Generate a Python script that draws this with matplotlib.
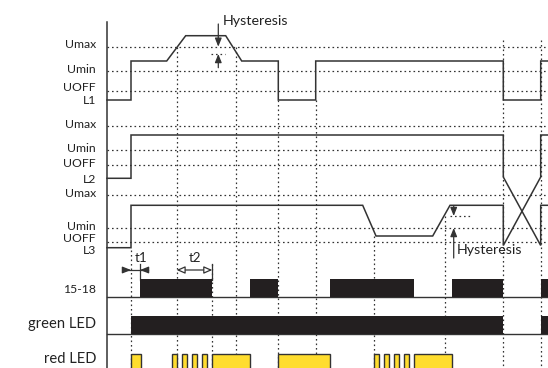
import matplotlib.pyplot as plt

plt.rcParams['font.family'] = ['Lato', 'DejaVu Sans']

# time marks (dotted verticals) and where each one begins
marks = [131, 176.6, 212.3, 235.7, 278.3, 315.7, 373.5, 444.5, 503.3, 540.7]
mark_top = [250, 47, 264, 47, 100, 100, 236, 216, 40, 40]

# threshold levels (Umax, Umin, UOFF) of each channel
l1_levels = [46.7, 70.7, 91]
l2_levels = [125.7, 150, 165]
l3_levels = [195, 228, 241.7]
level_names = ["Umax", "Umin", "UOFF"]

# waveforms
l1_t = [107, 131, 131, 166.7, 185.7, 225.7, 241.7, 278.3, 278.3, 315.7, 315.7, 503.3, 503.3, 540.7, 540.7, 548]
l1_v = [100, 100, 61, 61, 35.7, 35.7, 61, 61, 100, 100, 61, 61, 100, 100, 61, 61]
l2_t = [107, 131, 131, 503.3, 503.3, 540.7, 540.7, 548]
l2_v = [178.3, 178.3, 135, 135, 177, 245.5, 205.3, 205.3]
l3_t = [107, 131, 131, 362.7, 376, 432.7, 450, 503.3, 503.3, 540.7, 540.7, 548]
l3_v = [247.7, 247.7, 205.3, 205.3, 236, 236, 205.3, 205.3, 245.5, 177, 135, 135]

# output rows
relay_on = [140, 250, 330, 451.7, 540.7]
relay_off = [212.3, 278.3, 414.3, 503.3, 548]
green_on = [130.7, 540.7]
green_off = [503.3, 548]
red_on = [130.7, 171.7, 181.7, 191.7, 201.7, 212.3, 278.3, 373.5, 383.5, 393.5, 403.7, 414.3]
red_off = [140.7, 176.9, 186.9, 196.9, 207.1, 250, 330, 379.3, 389, 399, 409.3, 451.7]

ink = '#333333'
black = '#231f20'
yellow = '#ffdd2e'
dots = (0, (1.3, 2.3))

fig = plt.figure(figsize=(5.48, 3.68), dpi=100)
ax = fig.add_axes([0, 0, 1, 1])
ax.set_xlim(0, 548)
ax.set_ylim(368, 0)
ax.axis('off')

# threshold dotted lines
for lv in l1_levels + l2_levels + l3_levels:
    ax.plot([107, 548], [lv, lv], color=ink, lw=0.9, ls=dots)

# vertical time marks
for x, top in zip(marks, mark_top):
    ax.plot([x, x], [top, 368], color=ink, lw=0.9, ls=dots)

# left axis
ax.plot([107, 107], [21.7, 368], color=ink, lw=1.1)

# waveforms
for t, v in [(l1_t, l1_v), (l2_t, l2_v), (l3_t, l3_v)]:
    ax.plot(t, v, color=ink, lw=1.1, solid_joinstyle='miter')

# labels on the left
label_y = [45, 69.3, 87.3, 125, 148.3, 163.3, 193.3, 226, 238.3]
for i, y in enumerate(label_y):
    ax.text(96, y, level_names[i % 3], ha='right', va='center', fontsize=8.8, color='#222222')
for name, y in [("L1", 100), ("L2", 179.3), ("L3", 250)]:
    ax.text(96, y, name, ha='right', va='center', fontsize=8.8, color='#222222')
ax.text(96, 289.3, "15-18", ha='right', va='center', fontsize=8.8, color='#222222')
ax.text(96, 324, "green LED", ha='right', va='center', fontsize=10.6, color='#222222')
ax.text(96, 359.3, "red LED", ha='right', va='center', fontsize=10.6, color='#222222')

# hysteresis markers
head = dict(arrowstyle='-|>,head_length=0.5,head_width=0.2', color=ink, lw=0.9, shrinkA=0, shrinkB=0)
ax.annotate('', xy=(218.3, 46.7), xytext=(218.3, 24), arrowprops=head)
ax.annotate('', xy=(218.3, 54), xytext=(218.3, 67.7), arrowprops=head)
ax.plot([211, 225], [54, 54], color=ink, lw=0.9, ls=dots)
ax.text(222.5, 21, "Hysteresis", ha='left', va='center', fontsize=10.3, color='#222222')

ax.annotate('', xy=(453.7, 216), xytext=(453.7, 205.5), arrowprops=head)
ax.annotate('', xy=(453.7, 228), xytext=(453.7, 258), arrowprops=head)
ax.plot([450, 471], [216, 216], color=ink, lw=0.9, ls=dots)
ax.text(457, 250.5, "Hysteresis", ha='left', va='center', fontsize=10.3, color='#222222')

# t1 / t2 delay markers
ax.plot([124, 148], [270, 270], color=ink, lw=0.9)
ax.annotate('', xy=(131, 270), xytext=(123, 270), arrowprops=head)
ax.annotate('', xy=(140, 270), xytext=(148, 270), arrowprops=head)
ax.plot([140, 140], [264, 280], color=ink, lw=0.9)
ax.text(141, 258, "t1", ha='center', va='center', fontsize=9.5, color='#222222')

open_head = dict(arrowstyle='<|-|>,head_length=0.5,head_width=0.22', color=ink, fc='white',
                 lw=0.9, shrinkA=0, shrinkB=0)
ax.annotate('', xy=(176.6, 270), xytext=(212.3, 270), arrowprops=open_head)
ax.plot([212.3, 212.3], [264, 280], color=ink, lw=0.9)
ax.text(195, 257.5, "t2", ha='center', va='center', fontsize=9.5, color='#222222')

# output rows
ax.plot([107, 548], [296.7, 296.7], color=ink, lw=1.0)
ax.plot([107, 548], [334.3, 334.3], color=ink, lw=1.0)
ax.bar(relay_on, 17.4, width=[b - a for a, b in zip(relay_on, relay_off)], bottom=279.3,
       align='edge', color=black, zorder=3)
ax.bar(green_on, 18.3, width=[b - a for a, b in zip(green_on, green_off)], bottom=316,
       align='edge', color=black, zorder=3)
ax.bar(red_on, 20, width=[b - a for a, b in zip(red_on, red_off)], bottom=354,
       align='edge', color=yellow, edgecolor=ink, lw=1.0, zorder=3)

fig.savefig('out.png', dpi=100)
